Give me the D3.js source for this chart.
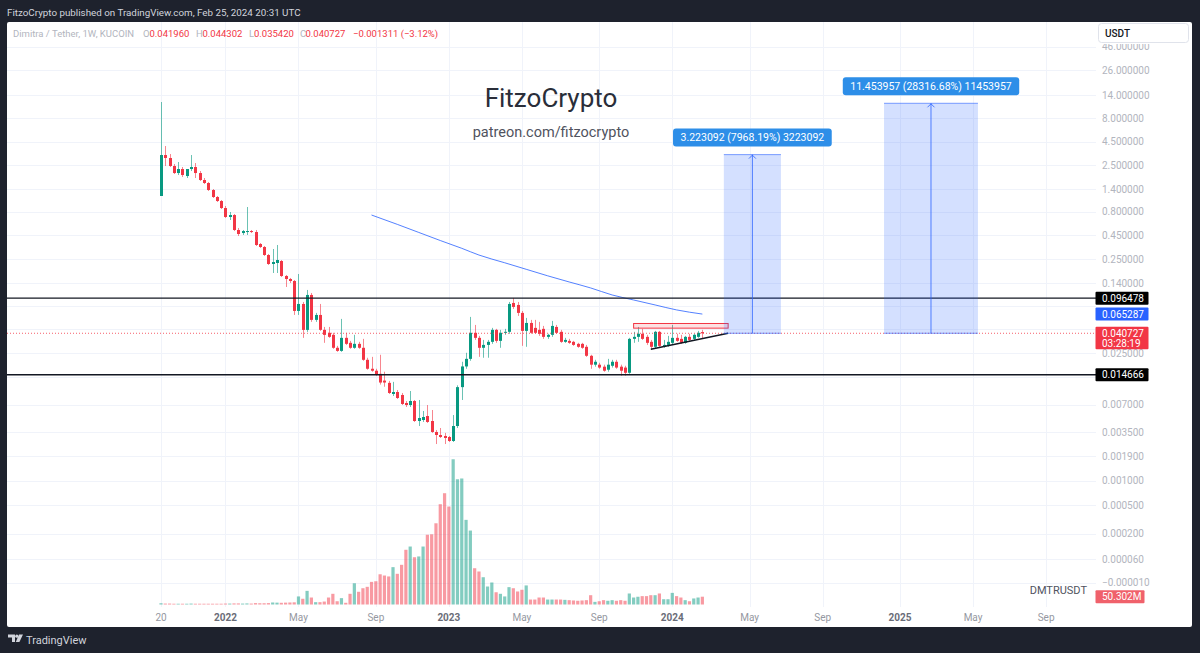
<!DOCTYPE html>
<html><head><meta charset="utf-8">
<script src="https://cdn.jsdelivr.net/npm/d3@7"></script>
<style>
html,body{margin:0;padding:0;background:#1e222d;overflow:hidden}
svg{display:block}
text{font-family:Roboto,"Noto Sans",sans-serif}
</style>
</head><body>
<svg id="chart" width="1200" height="653"></svg>
<script>
// ---------- DATA ----------
const firstWeek = "2021-09-20"; // weekly candles, one per week from this Monday
const opens = [1.183,3.232,3.003,2.468,2.078,2.293,1.931,2.293,2.408,2.078,
1.751,1.627,1.370,1.154,1.046,0.881,0.707,0.742,0.514,0.477,
0.489,0.501,0.489,0.3646,0.3387,0.2783,0.2232,0.2287,0.2402,0.1663,
0.1545,0.1471,0.0705,0.0837,0.04426,0.1044,0.0566,0.0639,0.0443,0.0412,
0.0392,0.0285,0.0264,0.0364,0.0322,0.0285,0.0314,0.0285,0.0212,0.0170,
0.0162,0.0150,0.0127,0.0120,0.00911,0.00957,0.00889,0.00729,0.00693,0.00766,
0.00465,0.00477,0.00527,0.00465,0.00353,0.00327,0.00319,0.00311,0.00281,0.0041,
0.0108,0.0180,0.0217,0.0412,0.0364,0.0285,0.0306,0.0330,0.0443,0.0338,
0.0412,0.0422,0.0858,0.0817,0.0672,0.0432,0.0525,0.0465,0.0443,0.0454,
0.0373,0.0392,0.0476,0.0422,0.0330,0.0338,0.0330,0.0314,0.0314,0.0292,
0.0234,0.0188,0.0188,0.0179,0.0166,0.0183,0.0202,0.0179,0.0175,0.0154,
0.0355,0.0373,0.0402,0.0373,0.0330,0.0292,0.0422,0.0292,0.0306,0.0322,
0.0364,0.0355,0.0322,0.0373,0.0355,0.0373,0.041960];
const highs = [11.86,4.031,3.312,2.592,2.722,2.408,2.237,3.232,2.656,2.183,
1.839,1.667,1.404,1.183,1.072,0.926,0.799,0.761,0.540,0.514,
0.903,0.514,0.514,0.3736,0.347,0.2852,0.3224,0.3557,0.2462,0.1704,
0.1584,0.1508,0.1746,0.0879,0.1180,0.1096,0.0672,0.0837,0.0476,0.0476,
0.0412,0.0299,0.0580,0.0412,0.0338,0.0392,0.0330,0.0355,0.0223,0.0228,
0.0170,0.0240,0.0158,0.0126,0.0123,0.01006,0.00934,0.00766,0.00981,0.00785,
0.00785,0.00597,0.00693,0.00612,0.00371,0.0039,0.00345,0.00319,0.0054,0.0113,
0.0202,0.0252,0.0609,0.0500,0.0382,0.0346,0.0346,0.0465,0.0454,0.0443,
0.0454,0.0879,0.0970,0.0879,0.0705,0.0594,0.0566,0.0566,0.0539,0.0488,
0.0402,0.0552,0.0500,0.0443,0.0364,0.0355,0.0338,0.0322,0.0322,0.0306,
0.0240,0.0212,0.0197,0.0188,0.0217,0.0212,0.0212,0.0188,0.0183,0.0364,
0.0422,0.0476,0.0454,0.0392,0.0346,0.0432,0.0432,0.0346,0.0382,0.0500,
0.0402,0.0392,0.0382,0.0402,0.0402,0.0432,0.044302];
const lows = [1.183,2.468,2.408,2.028,1.979,1.884,1.839,2.183,1.839,1.709,
1.587,1.337,1.126,1.021,0.860,0.690,0.6566,0.501,0.4435,0.4545,
0.4545,0.477,0.347,0.3305,0.2716,0.2178,0.179,0.179,0.1622,0.1270,
0.1401,0.0639,0.0639,0.03637,0.04214,0.0539,0.0539,0.0432,0.0322,0.0364,
0.0278,0.0258,0.0258,0.0306,0.0278,0.0278,0.0278,0.0207,0.0166,0.0158,
0.0143,0.0115,0.0109,0.00911,0.00867,0.00805,0.00693,0.00660,0.00660,0.00454,
0.0041,0.00454,0.00443,0.00345,0.0026,0.00303,0.0026,0.00274,0.00274,0.0039,
0.00785,0.0170,0.0207,0.0346,0.0228,0.0223,0.0223,0.0314,0.0322,0.0285,
0.0392,0.0402,0.0741,0.0624,0.0299,0.0292,0.0402,0.0402,0.0382,0.0355,
0.0355,0.0373,0.0402,0.0322,0.0322,0.0314,0.0299,0.0285,0.0278,0.0228,
0.0170,0.0179,0.0170,0.0158,0.0158,0.0175,0.0170,0.0143,0.0143,0.0150,
0.0322,0.0330,0.0346,0.0306,0.0271,0.0278,0.0292,0.0285,0.0292,0.0306,
0.0330,0.0314,0.0314,0.0338,0.0338,0.0364,0.035420];
const closes = [3.232,3.003,2.468,2.078,2.293,1.979,2.293,2.408,2.078,1.751,
1.627,1.370,1.154,1.046,0.881,0.707,0.742,0.514,0.466,0.501,
0.501,0.489,0.3557,0.3387,0.2783,0.2232,0.2344,0.2462,0.1663,0.1545,
0.1471,0.0705,0.0837,0.04426,0.1044,0.0566,0.0639,0.0443,0.03915,0.0373,
0.0285,0.0264,0.0364,0.0314,0.0285,0.0314,0.0285,0.0212,0.0170,0.0162,
0.0147,0.0121,0.0121,0.00934,0.00957,0.00825,0.00711,0.00693,0.00766,0.00465,
0.00501,0.00514,0.00454,0.00353,0.00327,0.00311,0.00303,0.00281,0.0041,0.0108,
0.0180,0.0217,0.0412,0.0364,0.0285,0.0306,0.0330,0.0443,0.0338,0.0412,
0.0422,0.0837,0.0778,0.0672,0.0432,0.0525,0.0412,0.0412,0.0402,0.0373,
0.0392,0.0488,0.0412,0.0330,0.0346,0.0322,0.0306,0.0292,0.0285,0.0234,
0.0188,0.0202,0.0175,0.0162,0.0188,0.0202,0.0175,0.0162,0.0154,0.0355,
0.0373,0.0402,0.0355,0.0322,0.0292,0.0422,0.0299,0.0306,0.0330,0.0364,
0.0338,0.0322,0.0373,0.0346,0.0392,0.0412,0.040727];
// weekly volume, millions
const volumes = [8,6,6,5,5,5,5,6,5,5,
5,5,5,5,5,6,6,7,7,6,
7,6,9,8,8,9,13,12,11,12,
13,14,52,37,88,45,15,15,19,45,
69,21,41,11,69,137,82,105,114,146,
150,195,187,181,241,198,256,353,374,305,
310,374,450,453,524,647,718,632,937,808,
813,546,477,234,213,176,116,142,79,69,
52,112,105,84,95,123,32,32,45,45,
32,32,32,32,30,28,26,24,26,28,
60,17,21,28,24,28,24,28,24,71,
45,50,54,54,60,60,71,34,34,75,
54,45,28,21,39,45,50.302];
// moving average line, read at these week indexes
const maWeeks = [49,55,60,65,70,74,80,85,90,95,100,105,110,115,120,126];
const maValues = [0.742,0.590,0.484,0.397,0.328,0.278,0.230,0.196,0.167,0.1436,0.124,0.1044,0.0923,0.0817,0.0723,0.065287];

const priceTicks = [46,26,14,8,4.5,2.5,1.4,0.8,0.45,0.25,0.14,0.08,0.045,0.025,0.014,0.007,0.0035,0.0019,0.001,0.0005,0.0002,0.00006,-0.00001];
const hiddenTickLabels = [0.08, 0.045, 0.014]; // covered by price boxes in the original
const timeTickDates = ["2021-09-20","2022-01-03","2022-05-02","2022-09-05","2023-01-02","2023-05-01","2023-09-04","2024-01-01","2024-05-06","2024-09-02","2025-01-06","2025-05-05","2025-09-01"];
const timeTickLabels = ["20","2022","May","Sep","2023","May","Sep","2024","May","Sep","2025","May","Sep"];
const timeTickBold = [false,true,false,false,true,false,false,true,false,false,true,false,false];

const levelLines = [0.096478, 0.014666];
const lastPrice = 0.040727;
const countdown = "03:28:19";
const maLastLabel = 0.065287;
const lastVolume = 50.302;
const lastVolumeLabel = "50.302M";
const resistanceBox = {from:"2023-10-30", to:"2024-04-01", low:0.0462, high:0.0518};
const trendLine = {from:"2023-11-27", to:"2024-04-01", p1:0.0275, p2:0.0407};
const targetFrom = ["2024-03-25","2024-12-11"];
const targetTo = ["2024-06-26","2025-05-13"];
const targetGain = [3.223092, 11.453957];
const targetPct = ["7968.19%","28316.68%"];
const targetTicks = ["3223092","11453957"];

const headerText = "FitzoCrypto published on TradingView.com, Feb 25, 2024 20:31 UTC";
const legendTitle = "Dimitra / Tether, 1W, KUCOIN";
const legendKeys = ["O","H","L","C"];
const legendVals = ["0.041960","0.044302","0.035420","0.040727"];
const legendChange = "\u22120.001311 (\u22123.12%)";

// ---------- SETUP ----------
const W = 1200, H = 653;
const paneL = 7, paneR = 1096, paneT = 22, paneB = 607;
const up = "#089981", down = "#f23645";
const svg = d3.select("#chart");
const day = 864e5;
const t0 = Date.parse(firstWeek + "T00:00:00Z");
const dates = opens.map((_, i) => new Date(t0 + i * 7 * day));
const pd = s => new Date(Date.parse(s + "T00:00:00Z"));

const x = d3.scaleUtc().domain([pd("2021-09-20"), pd("2025-01-06")]).range([161, 900]);
const yLog = d3.scaleLog().domain([0.14 + 1e-4, 26 + 1e-4]).range([283, 70]);
const y = p => yLog(p + 1e-4);
const yVol = d3.scaleLinear().domain([0, 1000]).range([604.5, 449.5]);

// background
svg.append("rect").attr("width", W).attr("height", H).attr("fill", "#1e222d");
svg.append("rect").attr("x", paneL).attr("y", paneT).attr("width", 1192 - paneL).attr("height", 627 - paneT)
  .attr("fill", "#ffffff").attr("rx", 2);

svg.append("text").attr("x", 7).attr("y", 16).attr("fill", "#d1d4dc").attr("font-size", 9.8).text(headerText);

const defs = svg.append("defs");
defs.append("clipPath").attr("id", "pane").append("rect")
  .attr("x", paneL).attr("y", paneT).attr("width", paneR - paneL).attr("height", paneB - paneT);
defs.append("clipPath").attr("id", "axis").append("rect")
  .attr("x", paneR).attr("y", 44).attr("width", 96).attr("height", paneB - 44);

// grid
const grid = svg.append("g").attr("stroke", "#f0f3fa").attr("stroke-width", 1);
timeTickDates.forEach(d => {
  const xx = Math.round(x(pd(d))) + 0.5;
  grid.append("line").attr("x1", xx).attr("x2", xx).attr("y1", paneT).attr("y2", paneB);
});
priceTicks.forEach(p => {
  const yy = Math.round(y(p)) + 0.5;
  grid.append("line").attr("x1", paneL).attr("x2", paneR).attr("y1", yy).attr("y2", yy);
});

// watermark
svg.append("text").attr("x", 551).attr("y", 107).attr("text-anchor", "middle").attr("font-size", 26)
  .attr("fill", "#2a2e39").text("FitzoCrypto");
svg.append("text").attr("x", 551).attr("y", 137).attr("text-anchor", "middle").attr("font-size", 14.5)
  .attr("fill", "#50535e").text("patreon.com/fitzocrypto");

const pane = svg.append("g").attr("clip-path", "url(#pane)");

// volume
pane.append("g").selectAll("rect").data(volumes).join("rect")
  .attr("x", (v, i) => x(dates[i]) - 1.6)
  .attr("width", 3.2)
  .attr("y", v => yVol(v))
  .attr("height", v => yVol(0) - yVol(v))
  .attr("fill", (v, i) => closes[i] >= opens[i] ? up : down)
  .attr("fill-opacity", 0.5);

// candles
const cg = pane.append("g");
opens.forEach((o, i) => {
  const c = closes[i], col = c >= o ? up : down;
  const cx = Math.round(x(dates[i])) + 0.5;
  cg.append("line").attr("x1", cx).attr("x2", cx).attr("y1", y(highs[i])).attr("y2", y(lows[i]))
    .attr("stroke", col).attr("stroke-opacity", 0.6).attr("stroke-width", 1);
  const top = y(Math.max(o, c)), bot = y(Math.min(o, c));
  cg.append("rect").attr("x", cx - 1.5).attr("width", 3).attr("y", top).attr("height", Math.max(1, bot - top)).attr("fill", col);
});

// moving average
pane.append("path").datum(maWeeks.map((w, k) => [x(dates[w]), y(maValues[k])]))
  .attr("d", d3.line().curve(d3.curveMonotoneX))
  .attr("fill", "none").attr("stroke", "#2962ff").attr("stroke-opacity", 0.8).attr("stroke-width", 1);

// horizontal levels
levelLines.forEach(p => {
  pane.append("line").attr("x1", paneL).attr("x2", paneR).attr("y1", y(p)).attr("y2", y(p))
    .attr("stroke", "#131722").attr("stroke-width", 1.4);
});
// last price dotted
pane.append("line").attr("x1", paneL).attr("x2", paneR).attr("y1", y(lastPrice)).attr("y2", y(lastPrice))
  .attr("stroke", down).attr("stroke-width", 1).attr("stroke-dasharray", "1,2").attr("stroke-opacity", 0.8);

// resistance box
pane.append("rect").attr("x", x(pd(resistanceBox.from))).attr("width", x(pd(resistanceBox.to)) - x(pd(resistanceBox.from)))
  .attr("y", y(resistanceBox.high)).attr("height", y(resistanceBox.low) - y(resistanceBox.high))
  .attr("fill", "rgba(242,54,69,0.15)").attr("stroke", down).attr("stroke-width", 1);
// trend line
pane.append("line").attr("x1", x(pd(trendLine.from))).attr("y1", y(trendLine.p1))
  .attr("x2", x(pd(trendLine.to))).attr("y2", y(trendLine.p2)).attr("stroke", "#131722").attr("stroke-width", 1.4);

// targets
targetFrom.forEach((f, k) => {
  const x1 = x(pd(f)), x2 = x(pd(targetTo[k]));
  const base = lastPrice, top = lastPrice + targetGain[k];
  const yb = y(base), yt = y(top), xm = (x1 + x2) / 2;
  const g = svg.append("g");
  g.append("rect").attr("x", x1).attr("width", x2 - x1).attr("y", yt).attr("height", yb - yt).attr("fill", "rgba(41,98,255,0.2)");
  g.append("line").attr("x1", x1).attr("x2", x2).attr("y1", yt).attr("y2", yt).attr("stroke", "#2962ff").attr("stroke-opacity", 0.6);
  g.append("line").attr("x1", x1).attr("x2", x2).attr("y1", yb).attr("y2", yb).attr("stroke", "#2962ff").attr("stroke-opacity", 0.6);
  g.append("line").attr("x1", xm).attr("x2", xm).attr("y1", yb).attr("y2", yt).attr("stroke", "#2962ff").attr("stroke-opacity", 0.8);
  g.append("path").attr("d", `M${xm-3.5},${yt+4}L${xm},${yt+0.5}L${xm+3.5},${yt+4}`).attr("fill", "none")
    .attr("stroke", "#2962ff").attr("stroke-opacity", 0.8);
  const lbl = `${targetGain[k].toFixed(6)} (${targetPct[k]}) ${targetTicks[k]}`;
  const t = g.append("text").attr("x", xm).attr("y", yt - 13.5).attr("text-anchor", "middle")
    .attr("font-size", 10.5).attr("fill", "#ffffff").text(lbl);
  const w = t.node().getComputedTextLength() + 15;
  g.insert("rect", "text").attr("x", xm - w / 2).attr("y", yt - 26).attr("width", w).attr("height", 18)
    .attr("rx", 3).attr("fill", "#2d8ee8");
});

// legend
const lgX = [143, 196, 249, 300];
const lgValX = [149.5, 202.5, 254, 305.5];
const lg = svg.append("g").attr("font-size", 9.5);
lg.append("text").attr("x", 13).attr("y", 37).attr("fill", "#b2b5be").text(legendTitle);
legendKeys.forEach((k, i) => {
  lg.append("text").attr("x", lgX[i]).attr("y", 37).attr("fill", "#b2b5be").text(k);
  lg.append("text").attr("x", lgValX[i]).attr("y", 37).attr("fill", down).text(legendVals[i]);
});
lg.append("text").attr("x", 353).attr("y", 37).attr("fill", down).text(legendChange);

// price axis labels
const fmt = d3.format(".6f");
const pa = svg.append("g").attr("font-size", 10);
const tickG = pa.append("g").attr("clip-path", "url(#axis)");
priceTicks.filter(p => !hiddenTickLabels.includes(p)).forEach(p => {
  tickG.append("text").attr("x", 1102).attr("y", y(p)).attr("dy", "0.35em").attr("fill", "#b2b5be")
    .text(p < 0 ? "\u2212" + fmt(-p) : fmt(p));
});
function axisBox(yy, txt, col, w, h) {
  pa.append("rect").attr("x", 1095.5).attr("y", yy - 6.5).attr("width", w).attr("height", h).attr("fill", col).attr("rx", 1);
  pa.append("text").attr("x", 1102).attr("y", yy).attr("dy", "0.35em").attr("fill", "#fff").text(txt);
}
levelLines.forEach(p => axisBox(y(p), fmt(p), "#000000", 53, 13));
axisBox(y(maLastLabel), fmt(maLastLabel), "#2962ff", 53, 13);
axisBox(y(lastPrice), fmt(lastPrice), down, 53, 22.5);
pa.append("text").attr("x", 1102).attr("y", y(lastPrice) + 10.5).attr("dy", "0.35em").attr("fill", "#fff").text(countdown);
axisBox(yVol(lastVolume), lastVolumeLabel, "#f0616b", 49, 13);

// USDT box
svg.append("rect").attr("x", 1098.5).attr("y", 23.5).attr("width", 90).attr("height", 19).attr("rx", 3)
  .attr("fill", "#ffffff").attr("stroke", "#e0e3eb");
svg.append("text").attr("x", 1105).attr("y", 36.5).attr("font-size", 10).attr("font-weight", 500).attr("fill", "#131722").text("USDT");

// symbol name
svg.append("text").attr("x", 1087).attr("y", 594).attr("text-anchor", "end").attr("font-size", 11)
  .attr("fill", "#50535e").text("DMTRUSDT");

// time axis labels
const ta = svg.append("g").attr("font-size", 10).attr("text-anchor", "middle");
timeTickDates.forEach((d, k) => {
  ta.append("text").attr("x", x(pd(d))).attr("y", 620.5).attr("fill", timeTickBold[k] ? "#6a6d78" : "#9598a1")
    .attr("font-weight", timeTickBold[k] ? 700 : 400).text(timeTickLabels[k]);
});

// bottom logo
const logo = svg.append("g").attr("fill", "#d1d4dc");
logo.append("path").attr("d", "M8,634.5h7v7.5h-3v-4.5h-4z");
logo.append("circle").attr("cx", 16.8).attr("cy", 636.2).attr("r", 1.6);
logo.append("path").attr("d", "M19,634.5h4l-3.6,7.5h-3.6z");
svg.append("text").attr("x", 26).attr("y", 643.5).attr("font-size", 11).attr("fill", "#d1d4dc").text("TradingView");
</script>
</body></html>
